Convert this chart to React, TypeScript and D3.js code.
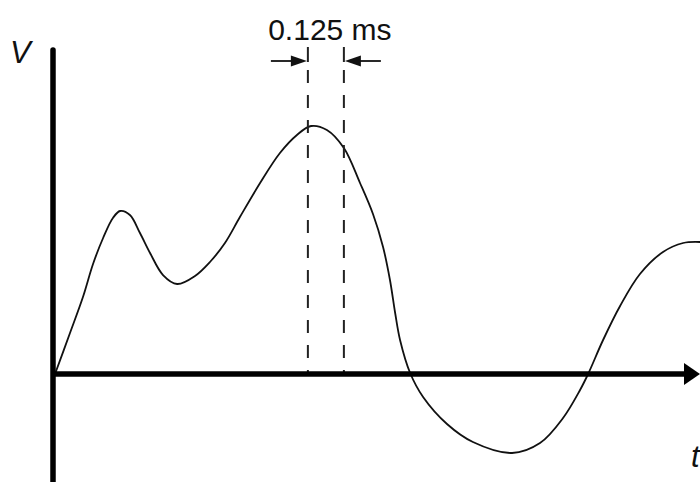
import React from "react";
import * as d3 from "d3";

// time in ms, voltage in arbitrary units
const times = [
  0.007, 0.059, 0.104, 0.139, 0.174, 0.208, 0.233, 0.267, 0.302, 0.337, 0.382,
  0.431, 0.493, 0.545, 0.597, 0.649, 0.719, 0.788, 0.847, 0.896, 0.951, 1.01,
  1.066, 1.111, 1.146, 1.17, 1.188, 1.205, 1.24, 1.285, 1.368, 1.458, 1.594,
  1.691, 1.771, 1.83, 1.858, 1.91, 1.969, 2.038, 2.118, 2.188, 2.247,
];
const volts = [
  0, 0.41, 0.77, 1.1, 1.36, 1.56, 1.63, 1.59, 1.41, 1.21, 0.99, 0.9, 0.98,
  1.12, 1.31, 1.57, 1.91, 2.21, 2.39, 2.48, 2.44, 2.26, 1.91, 1.6, 1.27,
  0.94, 0.61, 0.34, 0.01, -0.23, -0.5, -0.68, -0.79, -0.69, -0.44, -0.16, 0,
  0.34, 0.68, 1.0, 1.22, 1.31, 1.32,
];
const intervalStart = 0.885;
const intervalWidth = 0.125;
const intervalLabel = "0.125 ms";
const yLabel = "V";
const xLabel = "t";

const width = 700;
const height = 482;

const App = () => {
  const svgRef = React.useRef<SVGSVGElement>(null);

  React.useEffect(() => {
    const xScale = d3.scaleLinear().domain([0, 2.2465]).range([53, 700]);
    const yScale = d3.scaleLinear().domain([-1.08, 3.26]).range([482, 48]);

    const data = times.map((t, i) => ({ t, v: volts[i] }));

    const svg = d3.select(svgRef.current);
    svg.selectAll("*").remove();

    const x0 = xScale(0);
    const y0 = yScale(0);

    // waveform
    const line = d3
      .line<{ t: number; v: number }>()
      .x((d) => xScale(d.t))
      .y((d) => yScale(d.v))
      .curve(d3.curveCatmullRom.alpha(0.5));

    svg
      .append("path")
      .datum(data)
      .attr("fill", "none")
      .attr("stroke", "#111")
      .attr("stroke-width", 1.8)
      .attr("d", line);

    // interval markers
    const xa = xScale(intervalStart);
    const xb = xScale(intervalStart + intervalWidth);
    const arrowY = 61;

    [xa, xb].forEach((x) => {
      svg
        .append("line")
        .attr("x1", x)
        .attr("x2", x)
        .attr("y1", 47)
        .attr("y2", 62)
        .attr("stroke", "#222")
        .attr("stroke-width", 2);
      svg
        .append("line")
        .attr("x1", x)
        .attr("x2", x)
        .attr("y1", 70)
        .attr("y2", y0)
        .attr("stroke", "#222")
        .attr("stroke-width", 2)
        .attr("stroke-dasharray", "13,12");
    });

    // arrows pointing inward
    svg
      .append("line")
      .attr("x1", xa - 37)
      .attr("x2", xa - 10)
      .attr("y1", arrowY)
      .attr("y2", arrowY)
      .attr("stroke", "#111")
      .attr("stroke-width", 1.8);
    svg
      .append("path")
      .attr("d", `M${xa - 1},${arrowY} L${xa - 17},${arrowY - 5.5} L${xa - 17},${arrowY + 5.5} Z`)
      .attr("fill", "#111");
    svg
      .append("line")
      .attr("x1", xb + 37)
      .attr("x2", xb + 10)
      .attr("y1", arrowY)
      .attr("y2", arrowY)
      .attr("stroke", "#111")
      .attr("stroke-width", 1.8);
    svg
      .append("path")
      .attr("d", `M${xb + 1},${arrowY} L${xb + 17},${arrowY - 5.5} L${xb + 17},${arrowY + 5.5} Z`)
      .attr("fill", "#111");

    svg
      .append("text")
      .attr("x", (xa + xb) / 2 + 4)
      .attr("y", 40)
      .attr("text-anchor", "middle")
      .attr("font-family", "Liberation Sans, Arial, sans-serif")
      .attr("font-size", 30)
      .attr("fill", "#111")
      .text(intervalLabel);

    // axes
    svg
      .append("line")
      .attr("x1", x0)
      .attr("x2", x0)
      .attr("y1", 50)
      .attr("y2", height + 5)
      .attr("stroke", "#000")
      .attr("stroke-width", 5.5)
      .attr("stroke-linecap", "round");

    svg
      .append("line")
      .attr("x1", x0)
      .attr("x2", 688)
      .attr("y1", y0)
      .attr("y2", y0)
      .attr("stroke", "#000")
      .attr("stroke-width", 5.5);

    svg
      .append("path")
      .attr("d", `M${width},${y0} L${684},${y0 - 11} L${684},${y0 + 11} Z`)
      .attr("fill", "#000");

    svg
      .append("text")
      .attr("x", 10)
      .attr("y", 63)
      .attr("font-family", "Liberation Sans, Arial, sans-serif")
      .attr("font-style", "italic")
      .attr("font-size", 31)
      .attr("fill", "#111")
      .text(yLabel);

    svg
      .append("text")
      .attr("x", 691)
      .attr("y", 467)
      .attr("font-family", "Liberation Sans, Arial, sans-serif")
      .attr("font-style", "italic")
      .attr("font-size", 31)
      .attr("fill", "#111")
      .text(xLabel);
  }, []);

  return (
    <>
      <style>{`body{margin:0}`}</style>
      <svg
        ref={svgRef}
        width={width}
        height={height}
        style={{ display: "block", background: "#fff" }}
      />
    </>
  );
};

export default App;
